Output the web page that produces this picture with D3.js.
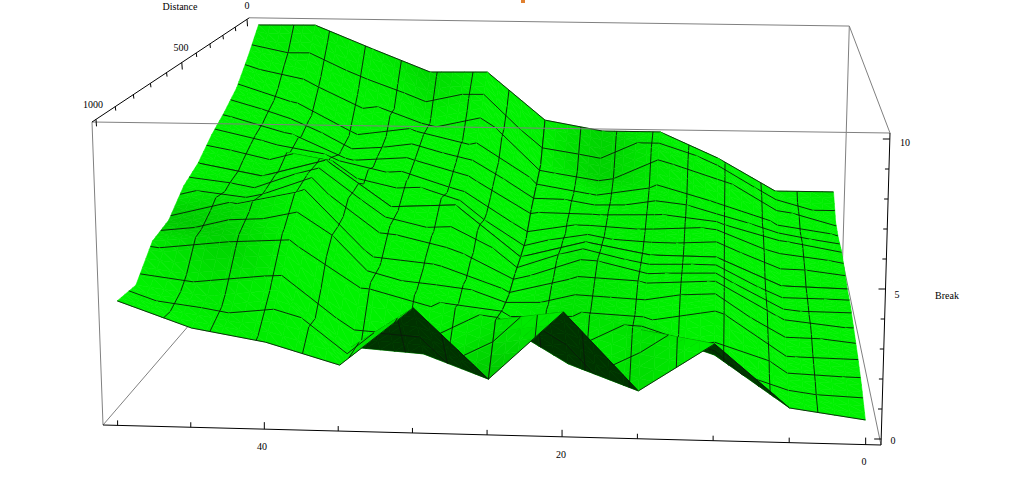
<!DOCTYPE html>
<html><head><meta charset="utf-8"><style>html,body{margin:0;background:#fff}svg{display:block}text{font-family:"Liberation Serif",serif;font-size:10px;fill:#000}</style>
<script src="https://cdn.jsdelivr.net/npm/d3@7"></script></head><body><svg id="c" width="1019" height="480"></svg>
<script>
const breaks=[50,45,40,35,30,25,20,15,10,5,0];
const distances=[0,100,200,300,400,500,600,700,800,900,1000];
const z0=[9.95,9.98,8.94,7.94,7.98,5.87,5.43,5.44,4.33,2.92,2.94];
const z100=[8.88,8.35,7.15,6.23,6.80,4.36,3.97,5.11,4.30,2.84,2.16];
const z200=[7.93,7.11,5.78,6.12,5.53,3.92,3.50,3.90,3.19,2.40,2.04];
const z300=[7.34,6.62,5.50,5.67,4.97,3.48,3.45,3.51,3.23,2.55,2.11];
const z400=[6.84,6.27,5.83,5.26,4.46,2.85,3.27,3.13,3.26,2.28,1.98];
const z500=[6.19,5.72,6.40,4.60,4.72,2.72,3.37,2.91,2.89,1.82,1.76];
const z600=[5.80,5.50,6.40,4.50,3.91,2.66,3.52,2.93,2.99,1.72,1.70];
const z700=[5.04,5.66,6.20,3.62,3.37,2.49,3.11,2.98,3.11,1.73,1.46];
const z800=[4.83,5.10,5.23,3.57,2.89,2.59,2.65,2.52,2.94,1.28,1.23];
const z900=[3.85,3.52,3.78,1.82,1.64,2.89,1.41,2.65,1.84,1.03,0.92];
const z1000=[3.94,3.06,2.63,1.90,3.91,1.54,3.88,1.26,2.91,0.81,0.47];
const zRows=[z0,z100,z200,z300,z400,z500,z600,z700,z800,z900,z1000];
const uS=d3.scaleLinear([51,-1],[0,1]),wS=d3.scaleLinear([-.2,10.2],[0,1]),tS=d3.scaleLinear([1020,-20],[0,1]);
const lx=d3.scaleLinear([0,1],[103,92]),ly=d3.scaleLinear([0,1],[425,122]),rx=d3.scaleLinear([0,1],[881,890]),ry=d3.scaleLinear([0,1],[445,133]);
const VP=[726,-298],K=.33,Q=.975;
const frac=x=>{const u=uS(x);return u*Q/((1-u)+u*Q)};
function proj(x,d,z){const f=frac(x),w=wS(z),D=1+K*tS(d);
 const Fx=lx(w)+(rx(w)-lx(w))*f,Fy=ly(w)+(ry(w)-ly(w))*f;
 return [VP[0]+(Fx-VP[0])/D,VP[1]+(Fy-VP[1])/D];}
const svg=d3.select('#c');
const line=d3.line();
const gray='#808080';
function seg(a,b,c,sw){svg.append('path').attr('d',line([a,b])).attr('stroke',c).attr('stroke-width',sw||1).attr('fill','none')}
const X0=51,X1=-1,D0=-20,D1=1020,Z0=-.2,Z1=10.2;
seg(proj(X0,D1,Z0),proj(X0,D1,Z1),gray);
seg(proj(X0,D0,Z1),proj(X1,D0,Z1),gray);
seg(proj(X1,D0,Z1),proj(X1,D1,Z1),gray);
seg(proj(X1,D0,Z1),proj(X1,D0,Z0),gray);
seg(proj(X1,D1,Z0),proj(X1,D0,Z0),gray);
seg(proj(X0,D1,Z0),proj(X0,D0,Z0),gray);
const meshX=d3.range(17).map(n=>50-n*3.125),meshD=d3.range(17).map(n=>n*62.5);
const nj=distances.length,ni=breaks.length;
const gx=29/14.4,gd=29/70,L=[-.6,-.03,.8];
const triNormal=(p,q,r)=>{const P=[p.x/gx,p.d/100/gd,p.z],Q2=[q.x/gx,q.d/100/gd,q.z],R=[r.x/gx,r.d/100/gd,r.z];
 const a=[Q2[0]-P[0],Q2[1]-P[1],Q2[2]-P[2]],b=[R[0]-P[0],R[1]-P[1],R[2]-P[2]];
 let n=[a[1]*b[2]-a[2]*b[1],a[2]*b[0]-a[0]*b[2],a[0]*b[1]-a[1]*b[0]];if(n[2]<0)n=n.map(v=>-v);const m=Math.hypot(...n);return n.map(v=>v/m)};
const V=zRows.map((r,j)=>r.map((z,i)=>({x:breaks[i],d:distances[j],z,n:[0,0,0]})));
const tris=[];
for(let j=0;j<nj-1;j++)for(let i=0;i<ni-1;i++){
 const a=V[j][i],b=V[j][i+1],c=V[j+1][i+1],e=V[j+1][i];
 tris.push({i,j,v:[a,b,c]},{i,j,v:[a,c,e]});}
tris.forEach(t=>{const n=triNormal(...t.v);t.n=n;t.v.forEach(v=>{v.n=v.n.map((q,k)=>q+n[k])})});
V.flat().forEach(v=>{const m=Math.hypot(...v.n);v.n=v.n.map(q=>q/m);});
const bright=d3.scaleLinear().domain([.3,.6,.72,.85]).range([172,182,230,242]).clamp(true);
const shade=n=>bright(n[0]*L[0]+n[1]*L[1]+n[2]*L[2]);
const order=tris.slice().sort((s,t)=>s.j-t.j||Math.abs(breaks[t.i]-12.5)-Math.abs(breaks[s.i]-12.5));
const N=5,items=[];
const bary=(v,a,b,c)=>({x:a*v[0].x+b*v[1].x+c*v[2].x,d:a*v[0].d+b*v[1].d+c*v[2].d,z:a*v[0].z+b*v[1].z+c*v[2].z});
function meshSegs(t){const out=[];const v=t.v;
 const cut=(key,val)=>{const pts=[];for(let k=0;k<3;k++){const p=v[k],q=v[(k+1)%3];const dp=p[key]-val,dq=q[key]-val;
   if(dp===0)pts.push(p);else if(dp*dq<0){const s=dp/(dp-dq);pts.push({x:p.x+(q.x-p.x)*s,d:p.d+(q.d-p.d)*s,z:p.z+(q.z-p.z)*s})}}
  if(pts.length>=2)out.push([pts[0],pts[1]]);};
 meshX.slice(1,16).forEach(m=>cut('x',m));meshD.forEach(m=>cut('d',m));
 return out;}
order.forEach(t=>{
 const P=t.v.map(v=>proj(v.x,v.d,v.z));
 const under=d3.polygonArea(P);
 const s0=[shade(t.v[0].n),shade(t.v[1].n),shade(t.v[2].n)];
 for(let a=0;a<N;a++)for(let b=0;b<N-a;b++){
  const mk=(A,B)=>[A/N,B/N,(N-A-B)/N];
  const sub=[[mk(a,b),mk(a+1,b),mk(a,b+1)]];
  if(a+b<N-1)sub.push([mk(a+1,b),mk(a+1,b+1),mk(a,b+1)]);
  sub.forEach(tr=>{
   const pts=tr.map(w=>{const p=bary(t.v,...w);return proj(p.x,p.d,p.z)});
   const c=[0,1,2].map(k=>(tr[0][k]+tr[1][k]+tr[2][k])/3);
   const g=c[0]*s0[0]+c[1]*s0[1]+c[2]*s0[2];
   const col=under>0?'#003300':`rgb(0,${Math.round(g)},0)`;
   items.push({d:line(pts)+'Z',fill:col,stroke:col,sw:.6});
  });}
 meshSegs(t).forEach(([p,q])=>items.push({d:line([proj(p.x,p.d,p.z),proj(q.x,q.d,q.z)]),fill:'none',stroke:'#0a1a0a',sw:.9}));
});
svg.append('g').selectAll('path').data(items).join('path').attr('d',d=>d.d).attr('fill',d=>d.fill).attr('stroke',d=>d.stroke).attr('stroke-width',d=>d.sw);
seg(proj(X0,D1,Z1),proj(X1,D1,Z1),gray);
seg(proj(X1,D1,Z0),proj(X0,D1,Z0),'#000');
seg(proj(X1,D1,Z0),proj(X1,D1,Z1),'#000');
seg(proj(X0,D1,Z1),proj(X0,D0,Z1),'#000');
d3.range(0,51,5).forEach(v=>{const p=proj(v,D1,Z0),M=v%20==0;seg(p,[p[0],p[1]-(M?7:5)],'#000')});
d3.range(0,11,1).forEach(v=>{const p=proj(X1,D1,v),M=v%5==0;seg(p,[p[0]-(M?7:4),p[1]],'#000')});
d3.range(0,1001,100).forEach(v=>{const p=proj(X0,v,Z1),M=v%500==0;seg(p,[p[0]+.5,p[1]+(M?7:4)],'#000')});
[[262,450,'40'],[561,458,'20'],[864,465,'0'],[905,146,'10'],[897,298,'5'],[893,444,'0'],[247,9,'0'],[181,51,'500'],[93,108,'1000'],[180,10,'Distance'],[947,299,'Break']].forEach(([x,y,s])=>svg.append('text').attr('x',x).attr('y',y).attr('text-anchor','middle').text(s));
svg.append('rect').attr('x',521).attr('y',0).attr('width',4).attr('height',3).attr('fill','#e08030');
</script></body></html>
